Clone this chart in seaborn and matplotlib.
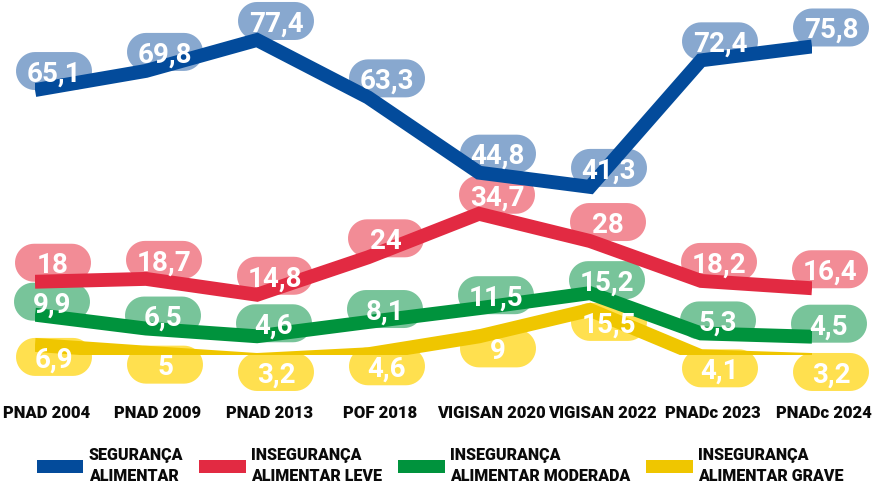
import matplotlib
matplotlib.use("Agg")
import matplotlib.pyplot as plt
import matplotlib.transforms as mtransforms
from matplotlib.patches import Patch, Polygon
import seaborn as sns
import pandas as pd
import numpy as np

surveys = ["PNAD 2004", "PNAD 2009", "PNAD 2013", "POF 2018",
           "VIGISAN 2020", "VIGISAN 2022", "PNADc 2023", "PNADc 2024"]
seguranca = [65.1, 69.8, 77.4, 63.3, 44.8, 41.3, 72.4, 75.8]
inseg_leve = [18, 18.7, 14.8, 24, 34.7, 28, 18.2, 16.4]
inseg_moderada = [9.9, 6.5, 4.6, 8.1, 11.5, 15.2, 5.3, 4.5]
inseg_grave = [6.9, 5, 3.2, 4.6, 9, 15.5, 4.1, 3.2]

series_names = ["SEGURANÇA\nALIMENTAR", "INSEGURANÇA\nALIMENTAR LEVE",
                "INSEGURANÇA\nALIMENTAR MODERADA", "INSEGURANÇA\nALIMENTAR GRAVE"]
series_values = [seguranca, inseg_leve, inseg_moderada, inseg_grave]

line_colors = ["#034b9b", "#e22a42", "#00933d", "#efc600"]
box_colors = ["#88a8cf", "#f28c96", "#78c49a", "#ffe04f"]
# pill centre offset from each point (inches), and vertical shift of the drawn line (px)
label_offsets = [(0.19, 0.19), (0.18, 0.19), (0.17, 0.13), (0.19, -0.12)]
line_shift = [0, 0, 0, -18]
pill_w, pill_h = 0.76, 0.38


def pill(cx, cy, w, h, n=24):
    # stadium shape: two half circles joined by straight sides
    r = h / 2
    t_right = np.linspace(-np.pi / 2, np.pi / 2, n)
    t_left = np.linspace(np.pi / 2, 3 * np.pi / 2, n)
    right = np.column_stack([cx + w / 2 - r + r * np.cos(t_right), cy + r * np.sin(t_right)])
    left = np.column_stack([cx - w / 2 + r + r * np.cos(t_left), cy + r * np.sin(t_left)])
    return np.vstack([right, left])


rows = []
for name, vals in zip(series_names, series_values):
    for i, v in enumerate(vals):
        rows.append({"pos": i, "valor": v, "serie": name})
df = pd.DataFrame(rows)

sns.set_theme(style="white")
plt.rcParams["font.family"] = ["Roboto", "DejaVu Sans"]

fig = plt.figure(figsize=(8.74, 4.86), dpi=100)
ax = fig.add_axes([35 / 874, 131 / 486, 777 / 874, 325.6 / 486])

for k, (name, vals) in enumerate(zip(series_names, series_values)):
    sub = df[df["serie"] == name]
    shift = mtransforms.offset_copy(ax.transData, fig=fig, x=0, y=line_shift[k], units="dots")
    sns.lineplot(data=sub, x="pos", y="valor", ax=ax, color=line_colors[k],
                 linewidth=10, sort=False, legend=False, zorder=3,
                 transform=shift, solid_joinstyle="miter", solid_capstyle="butt")
    dx, dy = label_offsets[k]
    for i, v in enumerate(vals):
        txt = f"{v:g}".replace(".", ",")
        # inches, measured from the data point
        at_point = fig.dpi_scale_trans + mtransforms.ScaledTranslation(i, v, shift)
        ax.add_patch(Polygon(pill(dx, dy, pill_w, pill_h), closed=True, fc=box_colors[k],
                             ec="none", transform=at_point, zorder=2, clip_on=False))
        ax.text(dx, dy, txt, transform=at_point, ha="center", va="center_baseline",
                fontsize=20, fontweight="bold", color="white", zorder=4, clip_on=False)

ax.set_xlim(0, 7)
ax.set_ylim(0, 80)
ax.set_xticks(range(len(surveys)))
ax.set_xticklabels(surveys, fontsize=12, fontweight="heavy", color="#0a0a0a")
ax.tick_params(axis="x", length=0, pad=36)
shift_lbl = mtransforms.ScaledTranslation(12 / 100, 0, fig.dpi_scale_trans)
for lbl in ax.get_xticklabels():
    lbl.set_transform(lbl.get_transform() + shift_lbl)
ax.set_yticks([])
ax.set_xlabel("")
ax.set_ylabel("")
sns.despine(ax=ax, left=True, bottom=True)

handles = [Patch(facecolor=c, edgecolor="none") for c in line_colors]
leg = fig.legend(handles, series_names, loc="upper left", bbox_to_anchor=(37 / 874, 1 - 447 / 486),
                 ncol=4, frameon=False, borderpad=0, borderaxespad=0,
                 handlelength=2.9, handleheight=0.9, handletextpad=0.35, columnspacing=1.0,
                 labelspacing=0.3, prop={"weight": "heavy", "size": 11.5})
for t in leg.get_texts():
    t.set_linespacing(1.4)
    t.set_color("#0a0a0a")

fig.savefig("out.png", dpi=100)
